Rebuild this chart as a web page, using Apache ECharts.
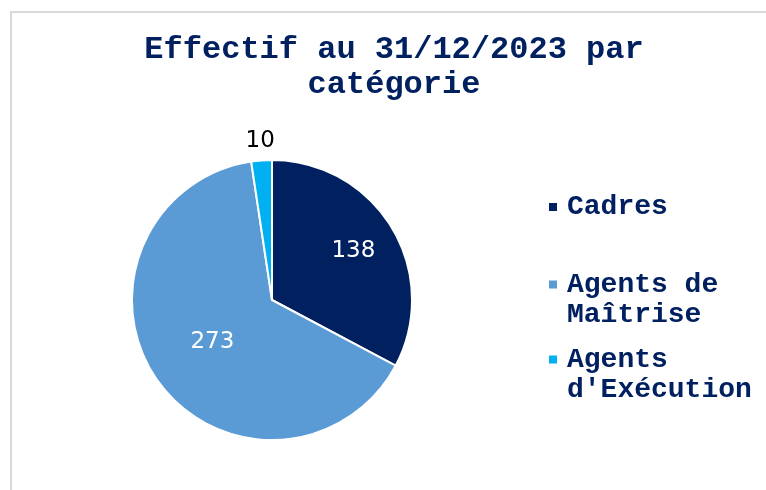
<!DOCTYPE html>
<html>
<head>
<meta charset="utf-8">
<script src="https://cdn.jsdelivr.net/npm/echarts@6/dist/echarts.min.js"></script>
<style>
  html, body { margin: 0; padding: 0; background: #fff; }
  #chart { width: 766px; height: 490px; }
</style>
</head>
<body>
<div id="chart"></div>
<script>
// donnees
var categories = ["Cadres", "Agents de Maîtrise", "Agents d'Exécution"];
// lignes de la legende (ligne vide en tete : icone alignee sur la 1re ligne)
var legendLines = [["Cadres"], ["", "Agents de", "Maîtrise"], ["", "Agents", "d'Exécution"]];
var effectifs = [138, 273, 10];
var couleurs = ["#002060", "#5B9BD5", "#00B0F0"];

var navy = "#002060";
var mono = "'Liberation Mono', 'DejaVu Sans Mono', monospace";

var myChart = echarts.init(document.getElementById("chart"));

function pieData(showIdx, labelColor) {
  return categories.map(function (c, i) {
    return {
      name: c,
      value: effectifs[i],
      label: { show: showIdx.indexOf(i) >= 0, color: labelColor[i] }
    };
  });
}

var labelColors = ["#ffffff", "#ffffff", "#000000"];
var labelFont = {
  formatter: "{c}",
  fontFamily: "'DejaVu Sans', Verdana, sans-serif",
  fontSize: 23
};

// un legend par categorie
var legendTops = [192, 239.5, 314.5];
var legends = categories.map(function (c, i) {
  return {
    orient: "vertical",
    left: 549,
    top: legendTops[i],
    padding: 0,
    itemWidth: 8,
    itemHeight: 8,
    icon: "rect",
    selectedMode: false,
    itemStyle: { borderWidth: 0 },
    data: [{ name: c, itemStyle: { color: couleurs[i], borderWidth: 0 } }],
    formatter: function () {
      return legendLines[i].map(function (l) { return l ? "{t|" + l + "}" : ""; }).join("\n");
    },
    textStyle: {
      fontFamily: mono,
      fontWeight: "bold",
      fontSize: 28,
      lineHeight: 30,
      color: navy,
      rich: {
        t: {
          fontFamily: mono,
          fontWeight: "bold",
          fontSize: 28,
          lineHeight: 30,
          color: navy,
          padding: [0, 0, 0, 5]
        }
      }
    }
  };
});

var option = {
  backgroundColor: "#ffffff",
  animation: false,
  color: couleurs,
  graphic: [
    {
      type: "rect",
      shape: { x: 11, y: 12, width: 800, height: 500 },
      style: { fill: "none", stroke: "#d9d9d9", lineWidth: 2 },
      silent: true
    }
  ],
  title: {
    text: "Effectif au 31/12/2023 par\ncatégorie",
    left: 389,
    top: 27,
    textAlign: "center",
    textStyle: {
      fontFamily: mono,
      fontWeight: "bold",
      fontSize: 32,
      lineHeight: 35,
      color: navy
    }
  },
  legend: legends,
  series: [
    {
      // secteurs
      type: "pie",
      center: [272, 300],
      radius: 140,
      startAngle: 90,
      clockwise: true,
      silent: true,
      itemStyle: { borderColor: "#ffffff", borderWidth: 2 },
      label: Object.assign({ position: "inside" }, labelFont),
      labelLine: { show: false },
      data: pieData([1], labelColors)
    },
    {
      // etiquette Cadres
      type: "pie",
      center: [272, 300],
      radius: [0, 184],
      startAngle: 90,
      silent: true,
      itemStyle: { color: "transparent" },
      label: Object.assign({ position: "inside" }, labelFont),
      labelLine: { show: false },
      data: pieData([0], labelColors)
    },
    {
      // etiquette exterieure
      type: "pie",
      center: [272, 300],
      radius: [140, 172],
      startAngle: 90,
      silent: true,
      itemStyle: { color: "transparent" },
      label: Object.assign({ position: "inside" }, labelFont),
      labelLine: { show: false },
      data: pieData([2], labelColors)
    }
  ]
};

myChart.setOption(option);
</script>
</body>
</html>
